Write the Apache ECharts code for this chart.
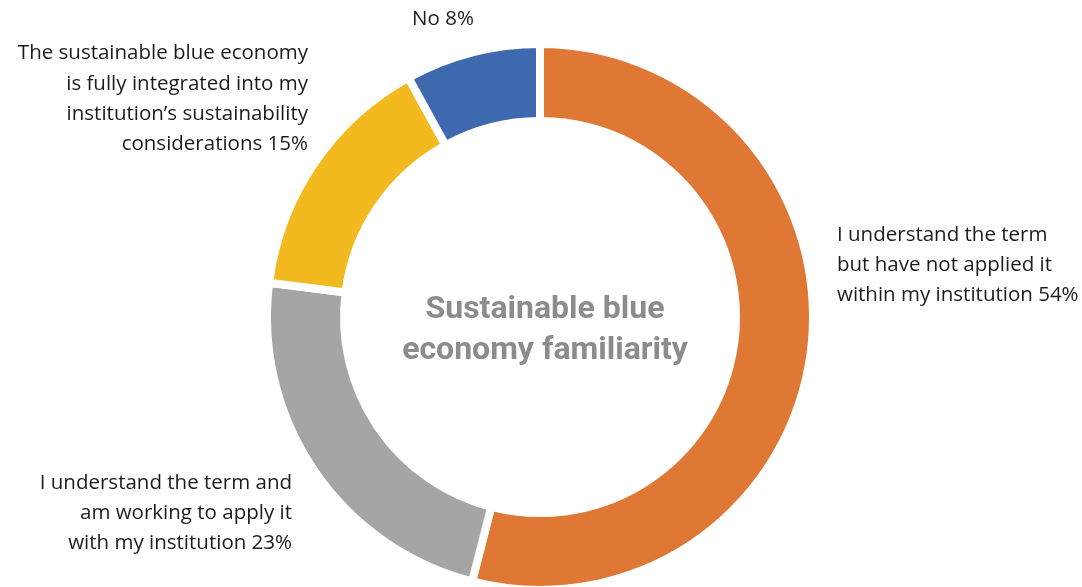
<!DOCTYPE html>
<html>
<head>
<meta charset="utf-8">
<script src="https://cdn.jsdelivr.net/npm/echarts@6/dist/echarts.min.js"></script>
<style>html,body{margin:0;padding:0;background:#fff;}#c{width:1082px;height:587px;}</style>
</head>
<body>
<div id="c"></div>
<script>
const categories = [
  'I understand the term\nbut have not applied it\nwithin my institution',
  'I understand the term and\nam working to apply it\nwith my institution',
  'The sustainable blue economy\nis fully integrated into my\ninstitution\u2019s sustainability\nconsiderations',
  'No'
];
const values = [54, 23, 15, 8];
const colors = ['#E07835', '#A5A5A5', '#F2BA1F', '#3F69AE'];
const centerTitle = 'Sustainable blue\neconomy familiarity';

const labelPos = [
  {x: 837, y: 265, align: 'left'},
  {x: 292, y: 513, align: 'right'},
  {x: 308, y: 99, align: 'right'},
  {x: 443, y: 19, align: 'center'}
];

const chart = echarts.init(document.getElementById('c'));
chart.setOption({
  animation: false,
  title: {
    text: centerTitle,
    left: 540, top: 284, textAlign: 'center',
    textStyle: {fontFamily: 'Roboto', fontWeight: 'bold', fontSize: 32, lineHeight: 41, color: '#8c8c8c'}
  },
  series: [{
    type: 'pie',
    center: [540, 317],
    radius: [196, 273],
    startAngle: 90,
    clockwise: true,
    data: categories.map((c, i) => ({name: c, value: values[i], itemStyle: {color: colors[i]}})),
    itemStyle: {borderColor: '#fff', borderWidth: 8},
    label: {
      show: true,
      overflow: 'none',
      formatter: p => p.name + ' ' + p.value + '%',
      fontFamily: 'Open Sans', fontSize: 20.5, fontWeight: 500, lineHeight: 30.3, color: '#1e1b1c'
    },
    labelLine: {show: false},
    labelLayout: p => {
      const l = labelPos[p.dataIndex];
      return {x: l.x, y: l.y, align: l.align, verticalAlign: 'middle'};
    }
  }]
});
</script>
</body>
</html>
